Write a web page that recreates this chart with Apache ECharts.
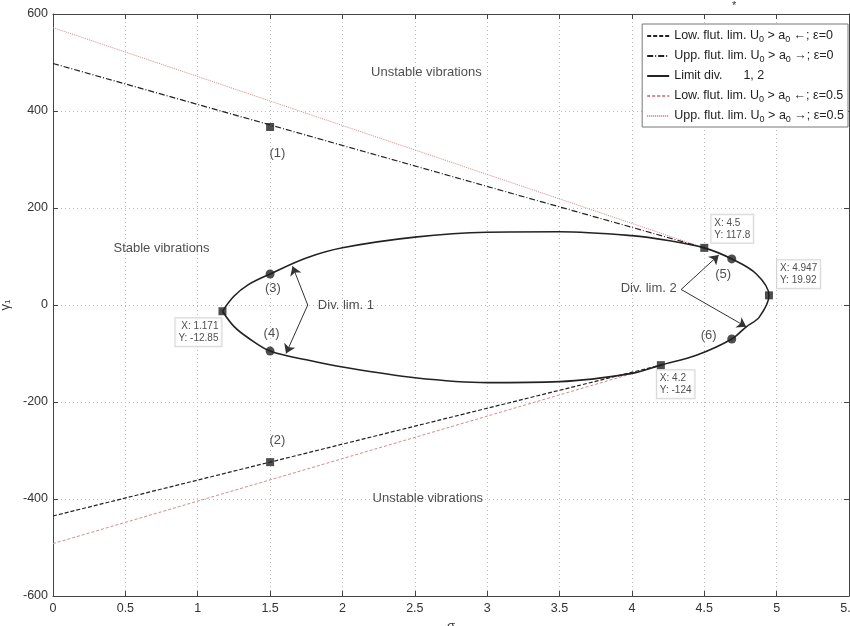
<!DOCTYPE html>
<html><head><meta charset="utf-8">
<script src="https://cdn.jsdelivr.net/npm/echarts@6/dist/echarts.min.js"></script>
<style>html,body{margin:0;padding:0;background:#fff}#c{width:850px;height:626px}</style>
</head><body><div id="c"></div>
<script>
// ---- data ----
const xTicks = [0,0.5,1,1.5,2,2.5,3,3.5,4,4.5,5,5.5];
const yTicks = [-600,-400,-200,0,200,400,600];
const lowFlut0   = [[0,-435],[4.2,-124]];
const uppFlut0   = [[0,498],[4.5,117.8]];
const lowFlut05  = [[0,-492],[4.2,-124]];
const uppFlut05  = [[0,572],[4.5,117.8]];
const limitDiv = [
  [1.171,-12.85],[1.25,18],[1.35,42],[1.5,64],[1.75,97],[2.0,118],[2.5,140],[3.0,150],[3.5,151],
  [4.0,143],[4.25,133],[4.5,117.8],[4.69,95],[4.86,64],[4.947,19.92],[4.88,-25],[4.79,-45],
  [4.69,-70],[4.45,-103],[4.2,-124],[4.0,-141],[3.5,-158],[3.0,-160],[2.5,-150],[2.0,-128],
  [1.75,-113],[1.5,-95],[1.35,-68],[1.25,-44],[1.171,-12.85]
];
const linePoints = [[1.5,367],[1.5,-324]];
const tipPoints = [[1.171,-12.85],[4.5,117.8],[4.947,19.92],[4.2,-124]];
const dotPoints = [[1.5,64],[1.5,-95],[4.69,95],[4.69,-70]];
const arrowLines = [
  [[1.76,0],[1.655,80]],
  [[1.76,0],[1.61,-100]],
  [[4.34,32],[4.6,103]],
  [[4.34,32],[4.79,-45]]
];
const names = [
  'Low. flut. lim. U0 > a0 \u2190; \u03b5=0',
  'Upp. flut. lim. U0 > a0 \u2192; \u03b5=0',
  'Limit div.      1, 2',
  'Low. flut. lim. U0 > a0 \u2190; \u03b5=0.5',
  'Upp. flut. lim. U0 > a0 \u2192; \u03b5=0.5'
];
const texts = [
  ['Unstable vibrations',2.58,480,'center'],
  ['Unstable vibrations',2.59,-398,'center'],
  ['Stable vibrations',0.75,117,'center'],
  ['(1)',1.55,313,'center'],
  ['(2)',1.55,-280,'center'],
  ['(3)',1.52,35,'center'],
  ['(4)',1.51,-58,'center'],
  ['Div. lim. 1',1.83,0,'left'],
  ['(5)',4.63,64,'center'],
  ['(6)',4.53,-62,'center'],
  ['Div. lim. 2',4.31,35,'right']
];
// ---- chart ----
const FONT = 'Liberation Sans, Arial, sans-serif';
const chart = echarts.init(document.getElementById('c'));
const tipLabelCfg = [
  {position:'left', distance:0, offset:[3,21]},
  {position:'right', distance:3, offset:[0,-19]},
  {position:'right', distance:4, offset:[0,-21]},
  {position:'right', distance:0, offset:[-8,19]}
];
const axisCommon = {
  axisLine:{show:true, onZero:false, lineStyle:{color:'#444', width:1}},
  axisTick:{show:true, inside:true, length:5, lineStyle:{color:'#444'}},
};
chart.setOption({
  animation:false,
  backgroundColor:'#fff',
  textStyle:{fontFamily:FONT},
  grid:{left:53, right:1, top:14, bottom:30, containLabel:false, outerBoundsMode:'none'},
  xAxis:[
    Object.assign({type:'value', min:0, max:5.5, interval:0.5, name:'\u03c3', nameLocation:'middle', nameGap:19,
      nameTextStyle:{fontSize:13, color:'#333', fontFamily:FONT},
      axisLabel:{color:'#333', fontSize:12.5, margin:6, fontFamily:FONT, formatter:v=>String(v)},
      splitLine:{show:true, lineStyle:{color:'#bbb', type:[1,3]}}}, axisCommon),
    Object.assign({type:'value', position:'top', min:0, max:5.5, interval:0.5, axisLabel:{show:false}, splitLine:{show:false}}, axisCommon)
  ],
  yAxis:[
    Object.assign({type:'value', min:-600, max:600, interval:200, name:'\u03b3{s|1}', nameLocation:'middle', nameGap:35,
      nameTextStyle:{fontSize:13, color:'#333', fontFamily:FONT, rich:{s:{fontSize:8, verticalAlign:'bottom', padding:[6,0,0,0]}}},
      axisLabel:{color:'#333', fontSize:12.5, margin:5, fontFamily:FONT},
      splitLine:{show:true, lineStyle:{color:'#bbb', type:[1,3]}}}, axisCommon),
    Object.assign({type:'value', position:'right', min:-600, max:600, interval:200, axisLabel:{show:false}, splitLine:{show:false}}, axisCommon)
  ],
  legend:{
    data:names, orient:'vertical', right:2, top:24, itemGap:4, itemWidth:22, itemHeight:12,
    backgroundColor:'#fff', borderColor:'#777', borderWidth:1, padding:[4,4,3,4], borderRadius:0,
    itemStyle:{opacity:0},
    textStyle:{fontSize:12.5, color:'#222', fontFamily:FONT, lineHeight:16,
      rich:{s:{fontSize:9, color:'#222', verticalAlign:'bottom', lineHeight:10, padding:[6,0,0,0]}}},
    formatter:n=>n.replace(/([Ua])0/g,'$1{s|0}')
  },
  graphic:[{type:'text', left:732, top:0, style:{text:'*', fontSize:11, fill:'#333'}}],
  series:[
    {name:names[0], type:'line', data:lowFlut0, symbol:'none', lineStyle:{color:'#222', width:1.2, type:[4,2]}, itemStyle:{color:'#222'}, z:3},
    {name:names[1], type:'line', data:uppFlut0, symbol:'none', lineStyle:{color:'#222', width:1.2, type:[6,2,1,2]}, itemStyle:{color:'#222'}, z:3},
    {name:names[2], type:'line', data:limitDiv, symbol:'none', smooth:0.35, lineStyle:{color:'#222', width:1.6}, itemStyle:{color:'#222'}, z:4},
    {name:names[3], type:'line', data:lowFlut05, symbol:'none', lineStyle:{color:'#d58a8a', width:1, type:[3,2]}, itemStyle:{color:'#d58a8a'}, z:2},
    {name:names[4], type:'line', data:uppFlut05, symbol:'none', lineStyle:{color:'#d58a8a', width:1, type:[1,1]}, itemStyle:{color:'#d58a8a'}, z:2},
    {name:'lineMarks', type:'scatter', data:linePoints, symbol:'rect', symbolSize:8, itemStyle:{color:'#222'}, z:6},
    {name:'dots', type:'scatter', data:dotPoints, symbol:'circle', symbolSize:9, itemStyle:{color:'#222'}, z:6},
    {name:'tips', type:'scatter', symbol:'rect', symbolSize:8, itemStyle:{color:'#222'}, z:7,
      data:tipPoints.map((p,i)=>({value:p, label:Object.assign({show:true,
        formatter:'X: '+p[0]+'\nY: '+p[1], fontSize:10, lineHeight:12, color:'#222', fontFamily:FONT,
        backgroundColor:'rgba(255,255,255,0.92)', borderColor:'#ccc', borderWidth:1, padding:[2,3]}, tipLabelCfg[i])}))},
    {name:'arrows', type:'lines', coordinateSystem:'cartesian2d', symbol:['none','arrow'], symbolSize:9,
      lineStyle:{color:'#333', width:1, opacity:1}, z:5,
      data:arrowLines.map(c=>({coords:c}))},
    {name:'texts', type:'scatter', symbolSize:0, z:8, silent:true,
      data:texts.map(t=>({value:[t[1],t[2]], label:{show:true, position:'inside', formatter:t[0], align:t[3],
        fontSize:13, color:'#222', fontFamily:FONT}}))}
  ]
});
</script></body></html>
